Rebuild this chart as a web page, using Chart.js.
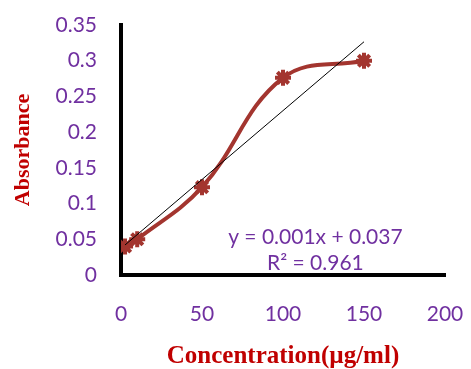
<!DOCTYPE html>
<html>
<head>
<meta charset="utf-8">
<script src="https://cdn.jsdelivr.net/npm/chart.js@4.4.0/dist/chart.umd.min.js"></script>
<style>
  body { margin: 0; background: #fff; }
  #wrap { width: 471px; height: 369px; }
</style>
</head>
<body>
<div id="wrap"><canvas id="calib"></canvas></div>
<script>
// calibration data
const concentration = [2.5, 10, 50, 100, 150];
const absorbance = [0.04, 0.05, 0.123, 0.276, 0.3];
const equationLines = ['y = 0.001x + 0.037', 'R² = 0.961'];

const purple = '#7030A0';
const darkRed = '#C00000';
const lineRed = '#A3352F';

// least squares trendline, like the spreadsheet does it
let n = concentration.length;
let mx = concentration.reduce((a, b) => a + b, 0) / n;
let my = absorbance.reduce((a, b) => a + b, 0) / n;
let sxy = 0, sxx = 0;
concentration.forEach((x, i) => {
  sxy += (x - mx) * (absorbance[i] - my);
  sxx += (x - mx) * (x - mx);
});
const slope = sxy / sxx;
const intercept = my - slope * mx;
const trendX = [concentration[0], concentration[n - 1]];

const pts = concentration.map((x, i) => ({x: x, y: absorbance[i]}));
const trendPts = trendX.map(x => ({x: x, y: intercept + slope * x}));

// draws the equation text inside the plot
const equationLabel = {
  id: 'equationLabel',
  afterDatasetsDraw(chart) {
    const {ctx, scales} = chart;
    ctx.save();
    ctx.fillStyle = purple;
    ctx.font = '21px Lato';
    ctx.textAlign = 'center';
    ctx.textBaseline = 'middle';
    const cx = scales.x.getPixelForValue(120);
    ctx.fillText(equationLines[0], cx, scales.y.getPixelForValue(0.053));
    ctx.fillText(equationLines[1], cx, scales.y.getPixelForValue(0.016));
    ctx.restore();
  }
};

new Chart(document.getElementById('calib'), {
  type: 'scatter',
  data: {
    datasets: [
      {
        label: 'Absorbance',
        data: pts,
        showLine: true,
        borderColor: lineRed,
        backgroundColor: lineRed,
        borderWidth: 4,
        tension: 0.4,
        pointStyle: 'star',
        pointRadius: 8,
        pointBorderWidth: 4,
        pointBorderColor: lineRed,
        order: 2
      },
      {
        label: 'Linear',
        data: trendPts,
        showLine: true,
        borderColor: '#000',
        borderWidth: 1,
        pointRadius: 0,
        tension: 0,
        order: 1
      }
    ]
  },
  options: {
    responsive: true,
    maintainAspectRatio: false,
    animation: false,
    layout: {padding: {left: 0, right: 26, top: 25, bottom: 0}},
    plugins: {
      legend: {display: false},
      tooltip: {enabled: false}
    },
    scales: {
      x: {
        min: 0,
        max: 200,
        ticks: {stepSize: 50, color: purple, font: {family: 'Lato', size: 21}, padding: 27, maxRotation: 0},
        grid: {display: false, drawTicks: false},
        border: {color: '#000', width: 4},
        title: {
          display: true,
          text: 'Concentration(µg/ml)',
          color: darkRed,
          font: {family: 'Liberation Serif', size: 25, weight: 'bold', lineHeight: 1},
          padding: {top: 0, bottom: 0}
        },
        afterFit(scale) {
          scale.height = 94;
          scale.paddingLeft = 0;
          scale.paddingRight = 0;
        }
      },
      y: {
        min: 0,
        max: 0.35,
        ticks: {
          stepSize: 0.05,
          color: purple,
          font: {family: 'Lato', size: 21},
          padding: 24,
          callback: v => String(Math.round(v * 100) / 100)
        },
        grid: {display: false, drawTicks: false},
        border: {color: '#000', width: 4},
        title: {
          display: true,
          text: 'Absorbance',
          color: darkRed,
          font: {family: 'Liberation Serif', size: 22, weight: 'bold'},
          padding: {top: 10, bottom: 0}
        },
        afterFit(scale) {
          scale.width = 121;
          scale.paddingTop = 0;
          scale.paddingBottom = 0;
        }
      }
    }
  },
  plugins: [equationLabel]
});
</script>
</body>
</html>
